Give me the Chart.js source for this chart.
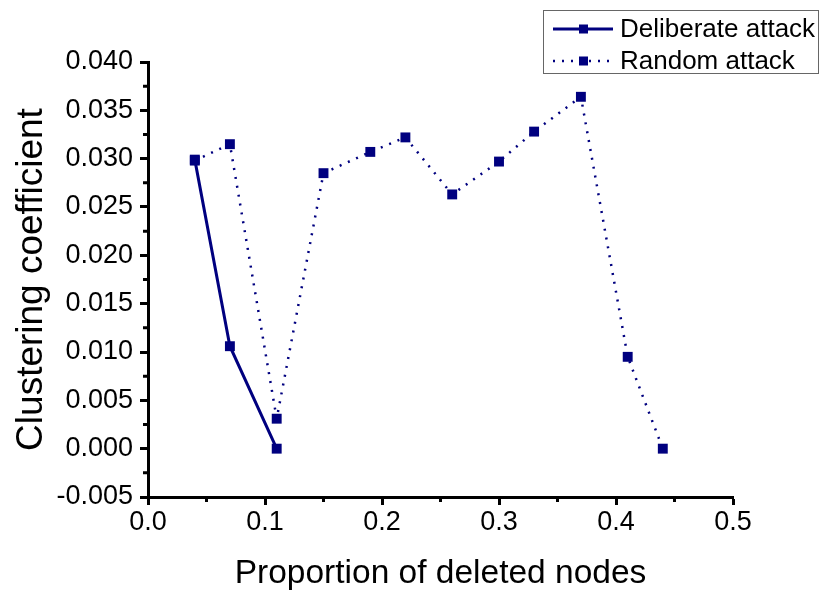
<!DOCTYPE html>
<html>
<head>
<meta charset="utf-8">
<script src="https://cdn.jsdelivr.net/npm/chart.js@4/dist/chart.umd.min.js"></script>
<style>
  html, body { margin: 0; padding: 0; background: #fff; }
  #wrap { width: 821px; height: 594px; }
</style>
</head>
<body>
<div id="wrap"><canvas id="chart" width="821" height="594"></canvas></div>
<script>
// data
var xDeliberate = [0.04, 0.07, 0.11];
var yDeliberate = [0.0299, 0.0106, 0.0];
var xRandom = [0.04, 0.07, 0.11, 0.15, 0.19, 0.22, 0.26, 0.30, 0.33, 0.37, 0.41, 0.44];
var yRandom = [0.0298, 0.0315, 0.0031, 0.0285, 0.0307, 0.0322, 0.0263, 0.0297, 0.0328, 0.0364, 0.0095, 0.0];
var xTicks = [0.0, 0.1, 0.2, 0.3, 0.4, 0.5];
var yTicks = [-0.005, 0.000, 0.005, 0.010, 0.015, 0.020, 0.025, 0.030, 0.035, 0.040];

var navy = '#00007f';
var font = "'Liberation Sans', Arial, sans-serif";

function pts(xs, ys) { return xs.map((x, i) => ({x: x, y: ys[i]})); }

// minor ticks + legend box drawn by hand
var extras = {
  id: 'extras',
  afterDraw(chart) {
    var ctx = chart.ctx;
    var xs = chart.scales.x, ys = chart.scales.y;
    ctx.save();
    ctx.strokeStyle = '#000';
    ctx.lineWidth = 3;
    ctx.beginPath();
    for (var i = 0; i < xTicks.length - 1; i++) {
      var px = xs.getPixelForValue((xTicks[i] + xTicks[i + 1]) / 2);
      ctx.moveTo(px, ys.bottom); ctx.lineTo(px, ys.bottom + 5);
    }
    for (var j = 0; j < yTicks.length - 1; j++) {
      var py = ys.getPixelForValue((yTicks[j] + yTicks[j + 1]) / 2);
      ctx.moveTo(xs.left, py); ctx.lineTo(xs.left - 5, py);
    }
    ctx.stroke();

    // legend
    ctx.lineWidth = 1;
    ctx.strokeStyle = '#666';
    ctx.strokeRect(543.5, 10.5, 275, 63);
    var rows = [{y: 29, ds: chart.data.datasets[0]}, {y: 61, ds: chart.data.datasets[1]}];
    rows.forEach(r => {
      ctx.strokeStyle = navy;
      ctx.lineWidth = r.ds.borderWidth;
      ctx.setLineDash(r.ds.borderDash || []);
      ctx.beginPath();
      ctx.moveTo(553, r.y); ctx.lineTo(613, r.y);
      ctx.stroke();
      ctx.setLineDash([]);
      ctx.fillStyle = navy;
      ctx.fillRect(579, r.y - 4.5, 9, 9);
      ctx.fillStyle = '#000';
      ctx.font = '26px ' + font;
      ctx.textBaseline = 'middle';
      ctx.fillText(r.ds.label, 620, r.y + 1);
    });
    ctx.restore();
  }
};

new Chart(document.getElementById('chart'), {
  type: 'line',
  data: {
    datasets: [
      {
        label: 'Deliberate attack',
        data: pts(xDeliberate, yDeliberate),
        borderColor: navy,
        backgroundColor: navy,
        borderWidth: 3,
        pointStyle: 'rect',
        pointRadius: 7,
        pointBorderWidth: 0,
        tension: 0
      },
      {
        label: 'Random attack',
        data: pts(xRandom, yRandom),
        borderColor: navy,
        backgroundColor: navy,
        borderWidth: 2.5,
        borderDash: [2, 7],
        pointStyle: 'rect',
        pointRadius: 7,
        pointBorderWidth: 0,
        tension: 0
      }
    ]
  },
  options: {
    responsive: false,
    animation: false,
    layout: { padding: { top: 62, right: 88, bottom: 0, left: 0 } },
    plugins: { legend: { display: false }, tooltip: { enabled: false } },
    scales: {
      x: {
        type: 'linear',
        min: 0, max: 0.5,
        afterBuildTicks: s => { s.ticks = xTicks.map(v => ({value: v})); },
        afterFit: s => { s.height = 97; },
        grid: { display: true, drawOnChartArea: false, drawTicks: true, tickLength: 8, tickWidth: 3, tickColor: '#000' },
        border: { display: true, color: '#000', width: 3 },
        ticks: {
          color: '#000', font: { family: font, size: 27 }, padding: 1,
          maxRotation: 0,
          callback: v => v.toFixed(1)
        },
        title: { display: true, text: 'Proportion of deleted nodes', color: '#000', font: { family: font, size: 33.5 }, padding: { top: 0, bottom: 0 } }
      },
      y: {
        type: 'linear',
        min: -0.005, max: 0.04,
        afterBuildTicks: s => { s.ticks = yTicks.map(v => ({value: v})); },
        afterFit: s => { s.width = 148; },
        grid: { display: true, drawOnChartArea: false, drawTicks: true, tickLength: 8, tickWidth: 3, tickColor: '#000' },
        border: { display: true, color: '#000', width: 3 },
        ticks: {
          color: '#000', font: { family: font, size: 27 }, padding: 7,
          callback: v => v.toFixed(3)
        },
        title: { display: true, text: 'Clustering coefficient', color: '#000', font: { family: font, size: 37 }, padding: { top: 10, bottom: 0 } }
      }
    }
  },
  plugins: [extras]
});
</script>
</body>
</html>
